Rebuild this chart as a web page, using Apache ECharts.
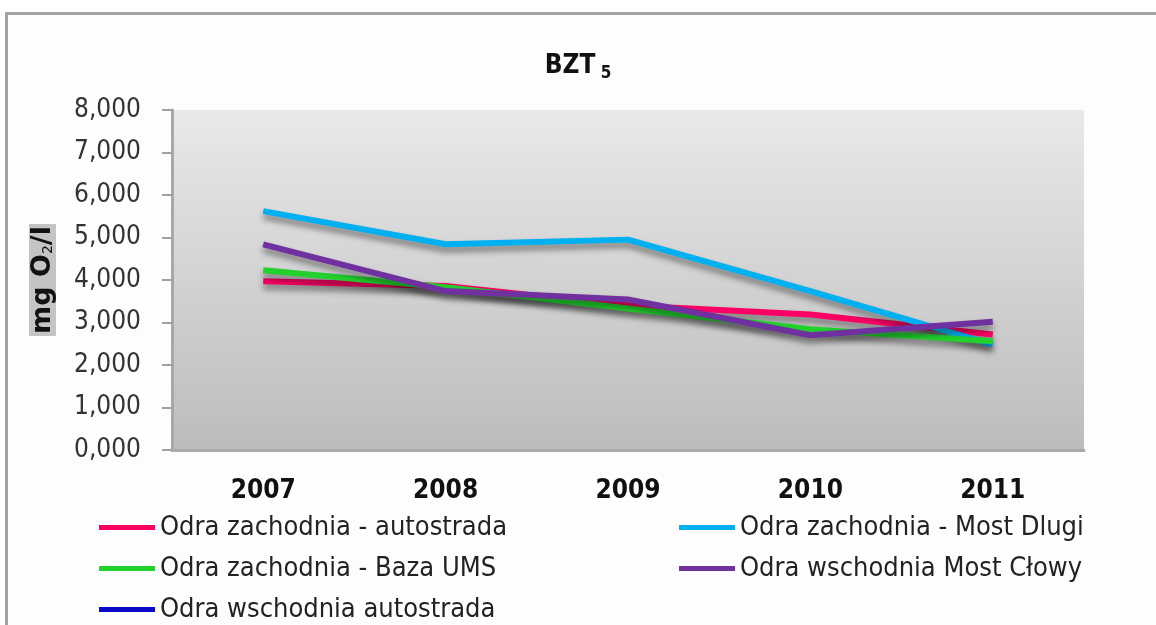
<!DOCTYPE html>
<html>
<head>
<meta charset="utf-8">
<script src="https://cdn.jsdelivr.net/npm/echarts@6/dist/echarts.min.js"></script>
<style>
  html, body { margin: 0; padding: 0; background: #fff; }
  #frame {
    position: absolute; left: 5px; top: 12px; width: 1160px; height: 630px;
    border-top: 3px solid #a3a3a3; border-left: 3px solid #a3a3a3;
    background: #fdfdfd;
  }
  #chart { position: absolute; left: 0; top: 0; width: 1156px; height: 625px; }
</style>
</head>
<body>
<div id="frame"></div>
<div id="chart"></div>
<script>
// lata pomiarów
const years = ['2007', '2008', '2009', '2010', '2011']
const yTicks = ['0,000', '1,000', '2,000', '3,000', '4,000', '5,000', '6,000', '7,000', '8,000']

// BZT5 [mg O2/l]
const zachAutostrada = [3.97, 3.86, 3.40, 3.19, 2.72]
const zachMostDlugi = [5.62, 4.84, 4.95, 3.74, 2.48]
const zachBazaUMS = [4.23, 3.83, 3.33, 2.84, 2.56]
const wschMostClowy = [4.84, 3.74, 3.54, 2.70, 3.02]
const wschAutostrada = []

const names = [
  'Odra zachodnia - autostrada',
  'Odra zachodnia - Most Dlugi',
  'Odra zachodnia - Baza UMS',
  'Odra wschodnia Most Cłowy',
  'Odra wschodnia autostrada'
]
const colors = ['#fb0064', '#00b0f0', '#22d02e', '#7030a0', '#0a0ac8']
const values = [zachAutostrada, zachMostDlugi, zachBazaUMS, wschMostClowy, wschAutostrada]

const narrow = 'DejaVu Sans Condensed'

const chart = echarts.init(document.getElementById('chart'))

const legendText = {
  fontFamily: narrow,
  fontSize: 27,
  color: '#222'
}

const option = {
  backgroundColor: 'transparent',
  title: {
    text: '{b|BZT}{s| 5}',
    left: 'center',
    top: 46,
    textStyle: {
      rich: {
        b: { fontFamily: narrow, fontWeight: 'bold', fontSize: 26, color: '#111' },
        s: { fontFamily: narrow, fontSize: 17, color: '#111', padding: [14, 0, 0, 0] }
      }
    }
  },
  grid: {
    left: 172,
    right: 72,
    top: 110,
    bottom: 175,
    show: true,
    borderWidth: 0,
    backgroundColor: new echarts.graphic.LinearGradient(0, 0, 0, 1, [
      { offset: 0, color: '#e9e9e9' },
      { offset: 1, color: '#bcbcbc' }
    ])
  },
  legend: [
    {
      data: [names[0], names[2], names[4]],
      orient: 'vertical',
      left: 94,
      top: 509,
      height: 200,
      itemGap: 14,
      icon: 'rect',
      itemWidth: 56,
      itemHeight: 5,
      textStyle: legendText
    },
    {
      data: [names[1], names[3]],
      orient: 'vertical',
      left: 674,
      top: 509,
      height: 200,
      itemGap: 14,
      icon: 'rect',
      itemWidth: 56,
      itemHeight: 5,
      textStyle: legendText
    }
  ],
  xAxis: {
    type: 'category',
    data: years,
    boundaryGap: true,
    axisLine: { lineStyle: { color: '#aaaaaa', width: 3 } },
    axisTick: { inside: true, length: 6, lineStyle: { color: '#a0a0a0', width: 2 } },
    axisLabel: {
      margin: 28,
      fontFamily: narrow,
      fontWeight: 'bold',
      fontSize: 26,
      color: '#111'
    }
  },
  yAxis: {
    type: 'value',
    min: 0,
    max: 8,
    interval: 1,
    name: '{t|mg O}{s|2}{t|/l}',
    nameLocation: 'middle',
    nameRotate: 90,
    nameGap: 116,
    nameTextStyle: {
      backgroundColor: '#c4c4c4',
      padding: [0, 2, 0, 2],
      rich: {
        t: { fontFamily: 'DejaVu Sans', fontWeight: 'bold', fontSize: 27, color: '#111' },
        s: { fontFamily: 'DejaVu Sans', fontSize: 14, color: '#111', padding: [12, 0, 0, 0] }
      }
    },
    splitLine: { show: false },
    axisLine: { show: true, lineStyle: { color: '#a8a8a8', width: 3 } },
    axisTick: { show: true, length: 10, lineStyle: { color: '#a0a0a0', width: 2 } },
    axisLabel: {
      margin: 31,
      fontFamily: narrow,
      fontSize: 26,
      color: '#333',
      formatter: (v) => yTicks[v]
    }
  },
  series: names.map((n, i) => ({
    name: n,
    type: 'line',
    data: values[i],
    symbol: 'none',
    color: colors[i],
    lineStyle: {
      width: 6,
      color: colors[i],
      shadowColor: 'rgba(0,0,0,0.45)',
      shadowBlur: 6,
      shadowOffsetY: 5
    }
  }))
}

chart.setOption(option)
</script>
</body>
</html>
